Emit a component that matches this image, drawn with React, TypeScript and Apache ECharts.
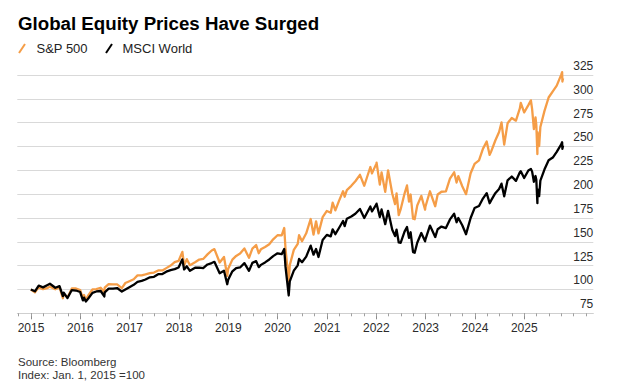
import React, { useEffect, useRef } from "react";
import * as echarts from "echarts";

const title = "Global Equity Prices Have Surged";
const seriesNames = ["S&P 500", "MSCI World"];
const sourceLines = ["Source: Bloomberg", "Index: Jan. 1, 2015 =100"];

const dates = [
  "2014-12-31", "2015-01-30", "2015-02-27", "2015-03-31", "2015-04-30", "2015-05-21", "2015-06-30", "2015-07-31",
  "2015-08-25", "2015-08-31", "2015-09-28", "2015-10-30", "2015-11-30", "2015-12-31",
  "2016-01-20", "2016-01-29", "2016-02-11", "2016-02-29", "2016-03-31", "2016-04-29", "2016-05-31", "2016-06-27",
  "2016-06-30", "2016-07-29", "2016-08-31", "2016-09-30", "2016-11-04", "2016-11-30", "2016-12-30",
  "2017-01-31", "2017-02-28", "2017-03-31", "2017-04-28", "2017-05-31", "2017-06-30", "2017-07-31", "2017-08-31",
  "2017-09-29", "2017-10-31", "2017-11-30", "2017-12-29",
  "2018-01-26", "2018-02-08", "2018-02-28", "2018-03-23", "2018-04-30", "2018-05-31", "2018-06-29", "2018-07-31",
  "2018-08-31", "2018-09-20", "2018-10-29", "2018-11-30", "2018-12-24", "2018-12-31",
  "2019-01-31", "2019-02-28", "2019-03-29", "2019-04-30", "2019-06-03", "2019-06-28", "2019-07-26", "2019-08-14",
  "2019-08-30", "2019-09-30", "2019-10-31", "2019-11-29", "2019-12-31",
  "2020-01-31", "2020-02-19", "2020-02-28", "2020-03-23", "2020-03-31", "2020-04-30", "2020-05-29", "2020-06-08",
  "2020-06-30", "2020-07-31", "2020-09-02", "2020-09-23", "2020-10-12", "2020-10-30", "2020-11-30", "2020-12-31",
  "2021-01-29", "2021-02-12", "2021-03-04", "2021-03-31", "2021-04-30", "2021-05-12", "2021-05-28", "2021-06-30",
  "2021-07-30", "2021-09-02", "2021-10-04", "2021-11-18", "2021-11-30", "2021-12-31",
  "2022-01-03", "2022-01-27", "2022-02-09", "2022-03-08", "2022-03-29", "2022-04-29", "2022-05-20", "2022-05-31",
  "2022-06-16", "2022-06-30", "2022-07-29", "2022-08-16", "2022-08-31", "2022-09-12", "2022-09-30", "2022-10-12",
  "2022-10-31", "2022-11-30", "2022-12-28", "2022-12-30",
  "2023-02-02", "2023-03-13", "2023-03-31", "2023-04-28", "2023-05-31", "2023-06-30", "2023-07-31", "2023-08-18",
  "2023-08-31", "2023-09-29", "2023-10-27", "2023-11-30", "2023-12-29",
  "2024-01-31", "2024-02-29", "2024-03-28", "2024-04-19", "2024-04-30", "2024-05-31", "2024-06-28", "2024-07-16",
  "2024-08-05", "2024-08-30", "2024-09-30", "2024-10-31", "2024-11-29", "2024-12-06", "2024-12-31",
  "2025-01-31", "2025-02-19", "2025-02-28", "2025-03-13", "2025-03-25", "2025-03-31", "2025-04-08", "2025-04-09",
  "2025-04-21", "2025-04-30", "2025-05-30", "2025-06-30", "2025-07-31", "2025-08-29", "2025-09-30", "2025-10-08",
  "2025-10-10", "2025-10-15",
];

const spx = [
  100, 96.9, 102.2, 100.4, 101.3, 103.0, 100.2, 102.2,
  90.8, 95.8, 91.6, 101.0, 101.0, 99.3,
  90.5, 94.2, 88.8, 93.8, 100.0, 100.3, 101.8, 97.1,
  101.9, 105.6, 105.4, 105.3, 101.5, 106.8, 108.7,
  110.7, 114.8, 114.8, 115.8, 117.1, 117.7, 120.0, 120.0,
  122.4, 125.1, 128.6, 129.9,
  139.5, 125.4, 131.8, 125.5, 128.6, 131.4, 132.0, 136.8,
  140.9, 142.3, 128.3, 134.1, 114.2, 121.8,
  131.3, 135.2, 137.7, 143.1, 133.2, 142.9, 146.6, 138.0,
  142.1, 144.6, 147.5, 152.6, 156.9,
  156.7, 164.5, 143.5, 108.7, 125.5, 141.5, 147.9, 157.0,
  150.6, 158.9, 173.9, 157.5, 171.5, 158.8, 175.9, 182.4,
  180.4, 191.0, 183.0, 193.0, 203.1, 197.3, 204.2, 208.7,
  213.5, 220.3, 208.8, 228.5, 221.8, 231.5,
  233.0, 210.1, 222.8, 202.5, 225.0, 200.7, 189.5, 200.7,
  178.1, 183.9, 200.6, 209.1, 192.1, 199.6, 174.2, 173.7,
  188.1, 198.2, 183.7, 186.5,
  203.0, 187.3, 199.6, 202.5, 203.0, 216.2, 222.9, 212.2,
  218.9, 208.3, 200.0, 221.9, 231.7,
  235.4, 247.5, 255.2, 241.2, 244.6, 256.3, 265.2, 275.2,
  251.9, 274.3, 279.9, 277.1, 289.9, 295.8, 285.7,
  293.4, 298.4, 289.2, 268.2, 280.5, 272.6, 242.0, 265.0,
  250.5, 270.5, 287.1, 301.4, 307.9, 313.8, 324.9, 328.0,
  318.2, 321.5,
];

const msci = [
  100, 98.1, 104.1, 102.2, 104.5, 106.0, 101.8, 103.5,
  93.0, 96.6, 91.0, 99.4, 98.9, 97.3,
  88.5, 91.4, 87.4, 90.5, 96.4, 97.9, 98.4, 92.7,
  97.0, 100.8, 100.9, 101.5, 97.8, 100.0, 102.4,
  104.9, 107.9, 109.0, 110.5, 112.8, 113.3, 116.0, 116.2,
  118.7, 120.3, 121.4, 123.0,
  131.6, 121.0, 124.3, 119.6, 122.8, 122.9, 122.3, 126.2,
  127.7, 129.0, 117.0, 119.6, 105.5, 110.2,
  119.0, 122.5, 123.1, 127.6, 119.5, 127.9, 129.7, 123.4,
  125.8, 128.4, 131.5, 135.0, 137.9,
  137.0, 142.4, 124.2, 93.7, 108.4, 119.7, 125.3, 132.0,
  128.6, 134.5, 146.0, 136.5, 142.5, 134.1, 151.9, 157.3,
  155.7, 163.0, 158.0, 164.5, 171.8, 166.5, 174.2, 176.5,
  179.5, 184.5, 175.0, 187.0, 181.8, 189.0,
  190.0, 176.0, 184.0, 168.5, 182.5, 162.7, 156.0, 162.8,
  149.3, 149.0, 160.7, 165.5, 154.1, 160.0, 139.1, 138.5,
  149.0, 159.2, 150.5, 152.3,
  167.0, 155.0, 163.2, 166.0, 164.4, 173.5, 179.4, 170.5,
  175.0, 167.4, 158.0, 175.0, 185.4,
  187.5, 195.4, 201.1, 190.5, 193.4, 201.0, 205.4, 211.0,
  197.7, 214.5, 218.5, 213.9, 222.9, 224.0, 216.9,
  224.8, 226.5, 223.6, 213.0, 219.0, 215.0, 190.5, 205.0,
  198.0, 214.1, 225.8, 235.5, 238.4, 244.4, 251.9, 254.5,
  247.5, 251.0,
];

const yearLabels = [2015, 2016, 2017, 2018, 2019, 2020, 2021, 2022, 2023, 2024, 2025];
const yTicks = { min: 75, max: 325, step: 25 };

const COLORS = ["#F59D47", "#000000"];

function decYear(s: string): number {
  const [y, m, d] = s.split("-").map(Number);
  const start = Date.UTC(y, 0, 1);
  const end = Date.UTC(y + 1, 0, 1);
  return y + (Date.UTC(y, m - 1, d) - start) / (end - start);
}

export default function App() {
  const ref = useRef<HTMLDivElement>(null);
  useEffect(() => {
    if (!ref.current) return;
    const chart = echarts.init(ref.current, undefined, { renderer: "svg" });
    const X_MIN = 2014.7223;
    const X_MAX = 2026.399;
    const quarterTicks: number[] = [];
    for (let q = 2014.75; q <= 2026.26; q += 0.25) quarterTicks.push(Math.round(q * 100) / 100);
    const font = "'Liberation Sans', Arial, Helvetica, sans-serif";
    const toPairs = (vals: number[]) => dates.map((d, i) => [decYear(d), vals[i]]);

    chart.setOption({
      animation: false,
      backgroundColor: "#ffffff",
      textStyle: { fontFamily: font },
      grid: { left: 17.3, right: 33.7, top: 75, bottom: 76.7, containLabel: false, outerBoundsMode: "none" },
      xAxis: [
        {
          type: "value",
          min: X_MIN,
          max: X_MAX,
          axisLine: { show: true, lineStyle: { color: "#cfcfcf", width: 1 } },
          axisTick: { show: true, customValues: yearLabels, length: 6, lineStyle: { color: "#8c8c8c", width: 1 } },
          axisLabel: {
            customValues: yearLabels,
            formatter: (v: number) => String(Math.round(v)),
            fontSize: 12,
            color: "#2b2b2b",
            margin: 9,
            fontFamily: font,
          },
          splitLine: { show: false },
        },
        {
          type: "value",
          min: X_MIN,
          max: X_MAX,
          position: "bottom",
          axisLine: { show: false },
          axisTick: { show: true, customValues: quarterTicks, length: 3, lineStyle: { color: "#a0a0a0", width: 1 } },
          axisLabel: { show: false },
          splitLine: { show: false },
        },
      ],
      yAxis: {
        type: "value",
        position: "right",
        min: yTicks.min,
        max: yTicks.max,
        interval: yTicks.step,
        axisLine: { show: false },
        axisTick: { show: false },
        axisLabel: {
          inside: true,
          margin: 0,
          fontSize: 12,
          color: "#2b2b2b",
          verticalAlign: "bottom",
          padding: [0, 0, 3, 0],
          fontFamily: font,
        },
        splitLine: { show: true, lineStyle: { color: "#d9d9d9", width: 1 } },
      },
      series: [
        {
          name: seriesNames[0],
          type: "line",
          data: toPairs(spx),
          showSymbol: false,
          clip: false,
          lineStyle: { color: COLORS[0], width: 2.3, join: "round" },
          itemStyle: { color: COLORS[0] },
          z: 3,
        },
        {
          name: seriesNames[1],
          type: "line",
          data: toPairs(msci),
          showSymbol: false,
          clip: false,
          lineStyle: { color: COLORS[1], width: 2.3, join: "round" },
          itemStyle: { color: COLORS[1] },
          z: 4,
        },
      ],
      graphic: [
        {
          type: "text",
          x: 18,
          y: 23,
          style: { text: title, fontSize: 18.7, fontWeight: "bold", fontFamily: font, fill: "#000", align: "left", verticalAlign: "middle" },
        },
        {
          type: "line",
          shape: { x1: 19, y1: 53, x2: 25, y2: 44 },
          style: { stroke: COLORS[0], lineWidth: 2 },
        },
        {
          type: "text",
          x: 36.5,
          y: 48.5,
          style: { text: seriesNames[0], fontSize: 13, fontFamily: font, fill: "#222", align: "left", verticalAlign: "middle" },
        },
        {
          type: "line",
          shape: { x1: 106, y1: 53, x2: 112, y2: 44 },
          style: { stroke: COLORS[1], lineWidth: 2 },
        },
        {
          type: "text",
          x: 122.5,
          y: 48.5,
          style: { text: seriesNames[1], fontSize: 13, fontFamily: font, fill: "#222", align: "left", verticalAlign: "middle" },
        },
        {
          type: "text",
          x: 18,
          y: 362,
          style: { text: sourceLines[0], fontSize: 11.5, fontFamily: font, fill: "#333", align: "left", verticalAlign: "middle" },
        },
        {
          type: "text",
          x: 18,
          y: 374.5,
          style: { text: sourceLines[1], fontSize: 11.5, fontFamily: font, fill: "#333", align: "left", verticalAlign: "middle" },
        },
      ],
    });
    return () => chart.dispose();
  }, []);
  return <div ref={ref} style={{ position: "fixed", left: 0, top: 0, width: 627, height: 390, background: "#fff" }} />;
}
